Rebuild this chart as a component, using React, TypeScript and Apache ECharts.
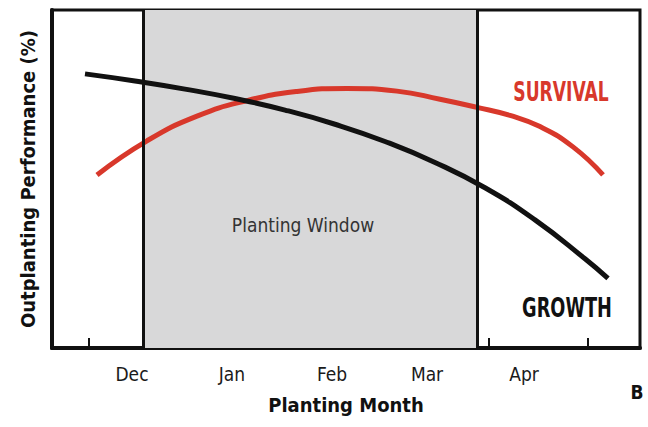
import React, { useEffect, useRef } from "react";
import * as echarts from "echarts";

// x in "months" units (0 = left edge of plot), y in % performance
const growthX = [0.33, 0.83, 1.33, 1.83, 2.33, 2.83, 3.33, 3.83, 4.33, 4.83, 5.33, 5.56];
const growthY = [81.1, 79.0, 76.6, 73.8, 70.4, 66.2, 61.1, 54.9, 47.4, 37.9, 26.4, 20.6];
const survivalX = [0.45, 0.95, 1.45, 1.95, 2.45, 2.95, 3.45, 3.88, 4.25, 4.58, 4.88, 5.21, 5.51];
const survivalY = [51.2, 61.3, 68.6, 73.2, 75.9, 76.8, 76.0, 73.6, 71.2, 68.8, 65.5, 59.5, 51.2];
const monthLabels = ["Dec", "Jan", "Feb", "Mar", "Apr"];
const monthLabelPos = [0.8, 1.8, 2.8, 3.75, 4.72];
const tickPos = [0.37, 1.44, 2.37, 3.35, 4.37, 5.36];
const windowRange = [0.91, 4.25];

const FONT = "'DejaVu Sans Condensed', 'Liberation Sans Narrow', Arial, sans-serif";

export default function App() {
  const ref = useRef<HTMLDivElement>(null);
  useEffect(() => {
    if (!ref.current) return;
    const chart = echarts.init(ref.current, undefined, { renderer: "svg" });
    const zip = (xs: number[], ys: number[]) => xs.map((x, i) => [x, ys[i]]);
    chart.setOption({
      animation: false,
      backgroundColor: "#ffffff",
      grid: {
        left: 52,
        right: 8,
        top: 10,
        bottom: 79,
        show: true,
        borderColor: "#111",
        borderWidth: 3,
        backgroundColor: "transparent",
      },
      xAxis: {
        type: "value",
        min: 0,
        max: 5.88,
        splitLine: { show: false },
        axisLine: { show: true, lineStyle: { color: "#111", width: 4 } },
        axisTick: {
          show: true,
          inside: true,
          length: 10,
          lineStyle: { color: "#111", width: 2 },
          customValues: tickPos,
        },
        axisLabel: {
          show: true,
          margin: 16,
          fontFamily: FONT,
          fontSize: 19,
          color: "#1a1a1a",
          customValues: monthLabelPos,
          formatter: (v: number) => {
            const i = monthLabelPos.findIndex((p) => Math.abs(p - v) < 0.01);
            return i >= 0 ? monthLabels[i] : "";
          },
        },
        name: "Planting Month",
        nameLocation: "middle",
        nameGap: 47,
        nameTextStyle: { fontFamily: FONT, fontSize: 20, fontWeight: "bold", color: "#111" },
      },
      yAxis: {
        type: "value",
        min: 0,
        max: 100,
        splitLine: { show: false },
        axisTick: { show: false },
        axisLabel: { show: false },
        axisLine: { show: true, lineStyle: { color: "#111", width: 4 } },
        name: "Outplanting Performance (%)",
        nameLocation: "middle",
        nameRotate: 90,
        nameGap: 14,
        nameTextStyle: { fontFamily: FONT, fontSize: 20, fontWeight: "bold", color: "#111" },
      },
      series: [
        {
          type: "line",
          data: [],
          silent: true,
          markArea: {
            silent: true,
            itemStyle: { color: "#d8d8d9" },
            data: [[{ xAxis: windowRange[0] }, { xAxis: windowRange[1] }]],
          },
          markLine: {
            silent: true,
            symbol: "none",
            label: { show: false },
            lineStyle: { color: "#111", width: 3, type: "solid" },
            data: [{ xAxis: windowRange[0] }, { xAxis: windowRange[1] }],
          },
        },
        {
          name: "Survival",
          type: "line",
          smooth: true,
          showSymbol: false,
          data: zip(survivalX, survivalY),
          lineStyle: { color: "#d8382b", width: 5 },
          z: 3,
        },
        {
          name: "Growth",
          type: "line",
          smooth: true,
          showSymbol: false,
          data: zip(growthX, growthY),
          lineStyle: { color: "#111", width: 5 },
          z: 4,
        },
      ],
      graphic: [
        {
          type: "text",
          x: 561,
          y: 92,
          z: 100,
          scaleX: 0.91,
          scaleY: 1.25,
          style: {
            text: "SURVIVAL",
            fill: "#d8382b",
            font: `bold 21px ${FONT}`,
            textAlign: "center",
            textVerticalAlign: "middle",
          },
        },
        {
          type: "text",
          x: 567,
          y: 307,
          z: 100,
          scaleX: 0.94,
          scaleY: 1.25,
          style: {
            text: "GROWTH",
            fill: "#111",
            font: `bold 21px ${FONT}`,
            textAlign: "center",
            textVerticalAlign: "middle",
          },
        },
        {
          type: "text",
          x: 303,
          y: 225,
          z: 100,
          style: {
            text: "Planting Window",
            fill: "#333",
            font: `19px ${FONT}`,
            textAlign: "center",
            textVerticalAlign: "middle",
          },
        },
        {
          type: "text",
          x: 637,
          y: 392,
          z: 100,
          style: {
            text: "B",
            fill: "#111",
            font: `bold 19px ${FONT}`,
            textAlign: "center",
            textVerticalAlign: "middle",
          },
        },
      ],
    });
    return () => chart.dispose();
  }, []);
  return <div ref={ref} style={{ width: 648, height: 427, position: "fixed", left: 0, top: 0 }} />;
}
